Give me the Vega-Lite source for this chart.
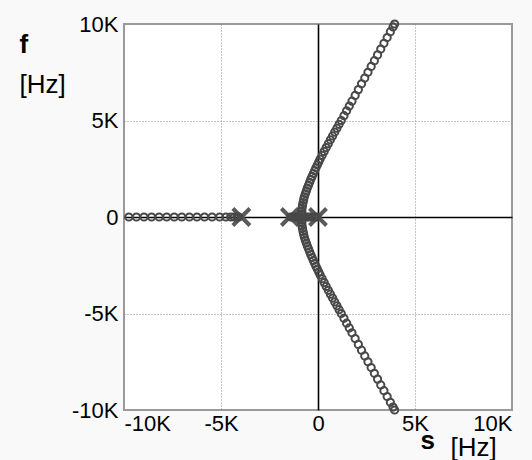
{
  "$schema": "https://vega.github.io/schema/vega-lite/v6.json",
  "width": 388,
  "height": 386,
  "autosize": {"type": "none"},
  "padding": {"left": 124, "top": 24, "right": 20, "bottom": 50},
  "background": "#f9f9f9",
  "config": {
    "view": {"fill": "white", "stroke": "#9a9a9a", "strokeWidth": 2},
    "axis": {"labelFont": "Liberation Sans", "titleFont": "Liberation Sans", "labelColor": "black", "titleColor": "black"}
  },
  "datasets": {
    "poles": [
      {"s": -3950, "f": 0},
      {"s": -1450, "f": 0},
      {"s": 0, "f": 0}
    ],
    "locus": [
      {"s": -9750, "f": 0}, {"s": -9360, "f": 0}, {"s": -8970, "f": 0}, {"s": -8580, "f": 0},
      {"s": -8190, "f": 0}, {"s": -7800, "f": 0}, {"s": -7410, "f": 0}, {"s": -7020, "f": 0},
      {"s": -6630, "f": 0}, {"s": -6240, "f": 0}, {"s": -5850, "f": 0}, {"s": -5460, "f": 0},
      {"s": -5070, "f": 0}, {"s": -4750, "f": 0}, {"s": -4500, "f": 0}, {"s": -4320, "f": 0},
      {"s": -4180, "f": 0}, {"s": -4080, "f": 0},
      {"s": -1400, "f": 0}, {"s": -1300, "f": 0}, {"s": -1200, "f": 0}, {"s": -1100, "f": 0},
      {"s": -1000, "f": 0}, {"s": -930, "f": 0}, {"s": -880, "f": 0},
      {"s": -60, "f": 0}, {"s": -180, "f": 0}, {"s": -320, "f": 0}, {"s": -460, "f": 0},
      {"s": -580, "f": 0}, {"s": -690, "f": 0}, {"s": -780, "f": 0}, {"s": -830, "f": 0},
      {"s": -841, "f": 150}, {"s": -832, "f": 300}, {"s": -823, "f": 450}, {"s": -800, "f": 600},
      {"s": -770, "f": 750}, {"s": -740, "f": 900}, {"s": -703, "f": 1050}, {"s": -652, "f": 1200},
      {"s": -601, "f": 1350}, {"s": -550, "f": 1500}, {"s": -490, "f": 1650}, {"s": -430, "f": 1800},
      {"s": -370, "f": 1950}, {"s": -306, "f": 2100}, {"s": -240, "f": 2250}, {"s": -174, "f": 2400},
      {"s": -106, "f": 2550}, {"s": -34, "f": 2700}, {"s": 38, "f": 2850}, {"s": 110, "f": 3000},
      {"s": 214, "f": 3200}, {"s": 318, "f": 3400}, {"s": 424, "f": 3600}, {"s": 532, "f": 3800},
      {"s": 640, "f": 4000}, {"s": 752, "f": 4200}, {"s": 864, "f": 4400}, {"s": 976, "f": 4600},
      {"s": 1088, "f": 4800}, {"s": 1200, "f": 5000}, {"s": 1338, "f": 5250}, {"s": 1475, "f": 5500},
      {"s": 1613, "f": 5750}, {"s": 1750, "f": 6000}, {"s": 1915, "f": 6300}, {"s": 2080, "f": 6600},
      {"s": 2245, "f": 6900}, {"s": 2410, "f": 7200}, {"s": 2575, "f": 7500}, {"s": 2740, "f": 7800},
      {"s": 2905, "f": 8100}, {"s": 3070, "f": 8400}, {"s": 3235, "f": 8700}, {"s": 3400, "f": 9000},
      {"s": 3565, "f": 9300}, {"s": 3730, "f": 9600}, {"s": 3868, "f": 9850}, {"s": 3950, "f": 10000},
      {"s": -841, "f": -150}, {"s": -832, "f": -300}, {"s": -823, "f": -450}, {"s": -800, "f": -600},
      {"s": -770, "f": -750}, {"s": -740, "f": -900}, {"s": -703, "f": -1050}, {"s": -652, "f": -1200},
      {"s": -601, "f": -1350}, {"s": -550, "f": -1500}, {"s": -490, "f": -1650}, {"s": -430, "f": -1800},
      {"s": -370, "f": -1950}, {"s": -306, "f": -2100}, {"s": -240, "f": -2250}, {"s": -174, "f": -2400},
      {"s": -106, "f": -2550}, {"s": -34, "f": -2700}, {"s": 38, "f": -2850}, {"s": 110, "f": -3000},
      {"s": 214, "f": -3200}, {"s": 318, "f": -3400}, {"s": 424, "f": -3600}, {"s": 532, "f": -3800},
      {"s": 640, "f": -4000}, {"s": 752, "f": -4200}, {"s": 864, "f": -4400}, {"s": 976, "f": -4600},
      {"s": 1088, "f": -4800}, {"s": 1200, "f": -5000}, {"s": 1338, "f": -5250}, {"s": 1475, "f": -5500},
      {"s": 1613, "f": -5750}, {"s": 1750, "f": -6000}, {"s": 1915, "f": -6300}, {"s": 2080, "f": -6600},
      {"s": 2245, "f": -6900}, {"s": 2410, "f": -7200}, {"s": 2575, "f": -7500}, {"s": 2740, "f": -7800},
      {"s": 2905, "f": -8100}, {"s": 3070, "f": -8400}, {"s": 3235, "f": -8700}, {"s": 3400, "f": -9000},
      {"s": 3565, "f": -9300}, {"s": 3730, "f": -9600}, {"s": 3868, "f": -9850}, {"s": 3950, "f": -10000}
    ]
  },
  "layer": [
    {
      "data": {"name": "poles"},
      "mark": {"type": "point", "shape": "M-1,-1L1,1M-1,1L1,-1", "size": 290, "filled": false, "stroke": "#5a5a5a", "strokeWidth": 4, "opacity": 1},
      "encoding": {
        "x": {
          "field": "s", "type": "quantitative",
          "scale": {"domain": [-10000, 10000], "nice": false, "zero": false},
          "axis": {
            "orient": "bottom", "values": [-10000, -5000, 0, 5000, 10000],
            "labelExpr": "datum.value == 0 ? '0' : (datum.value / 1000) + 'K'",
            "labelFontSize": 22, "labelPadding": 3, "ticks": false, "domain": false,
            "grid": true,
            "gridColor": {"condition": {"test": "datum.value == 0", "value": "black"}, "value": "#888888"},
            "gridDash": {"condition": {"test": "datum.value == 0", "value": []}, "value": [1, 2]},
            "gridWidth": {"condition": {"test": "datum.value == 0", "value": 1.6}, "value": 1},
            "gridOpacity": {"condition": {"test": "abs(datum.value) == 10000", "value": 0}, "value": 1},
            "title": "s", "titleFontSize": 26, "titleFontWeight": "bold",
            "titleAngle": 0, "titleAlign": "left", "titleBaseline": "alphabetic",
            "titleX": 296, "titleY": 38
          }
        },
        "y": {
          "field": "f", "type": "quantitative",
          "scale": {"domain": [-10000, 10000], "nice": false, "zero": false},
          "axis": {
            "orient": "left", "values": [-10000, -5000, 0, 5000, 10000],
            "labelExpr": "datum.value == 0 ? '0' : (datum.value / 1000) + 'K'",
            "labelFontSize": 22, "labelPadding": 6, "ticks": false, "domain": false,
            "grid": true,
            "gridColor": {"condition": {"test": "datum.value == 0", "value": "black"}, "value": "#888888"},
            "gridDash": {"condition": {"test": "datum.value == 0", "value": []}, "value": [1, 2]},
            "gridWidth": {"condition": {"test": "datum.value == 0", "value": 1.6}, "value": 1},
            "gridOpacity": {"condition": {"test": "abs(datum.value) == 10000", "value": 0}, "value": 1},
            "title": "f", "titleFontSize": 26, "titleFontWeight": "bold",
            "titleAngle": 0, "titleAlign": "left", "titleBaseline": "alphabetic",
            "titleX": -105, "titleY": 28
          }
        }
      }
    },
    {
      "data": {"name": "locus"},
      "mark": {"type": "point", "shape": "circle", "size": 52, "filled": false, "stroke": "#484848", "strokeWidth": 2, "opacity": 1},
      "encoding": {
        "x": {
          "field": "s", "type": "quantitative",
          "scale": {"domain": [-10000, 10000], "nice": false, "zero": false},
          "axis": {
            "orient": "bottom", "labels": false, "ticks": false, "domain": false, "grid": false,
            "title": "[Hz]", "titleFontSize": 26, "titleFontWeight": "normal",
            "titleAngle": 0, "titleAlign": "left", "titleBaseline": "alphabetic",
            "titleX": 326, "titleY": 45
          }
        },
        "y": {
          "field": "f", "type": "quantitative",
          "scale": {"domain": [-10000, 10000], "nice": false, "zero": false},
          "axis": {
            "orient": "left", "labels": false, "ticks": false, "domain": false, "grid": false,
            "title": "[Hz]", "titleFontSize": 26, "titleFontWeight": "normal",
            "titleAngle": 0, "titleAlign": "left", "titleBaseline": "alphabetic",
            "titleX": -105, "titleY": 68
          }
        }
      }
    }
  ],
  "resolve": {"axis": {"x": "independent", "y": "independent"}}
}
